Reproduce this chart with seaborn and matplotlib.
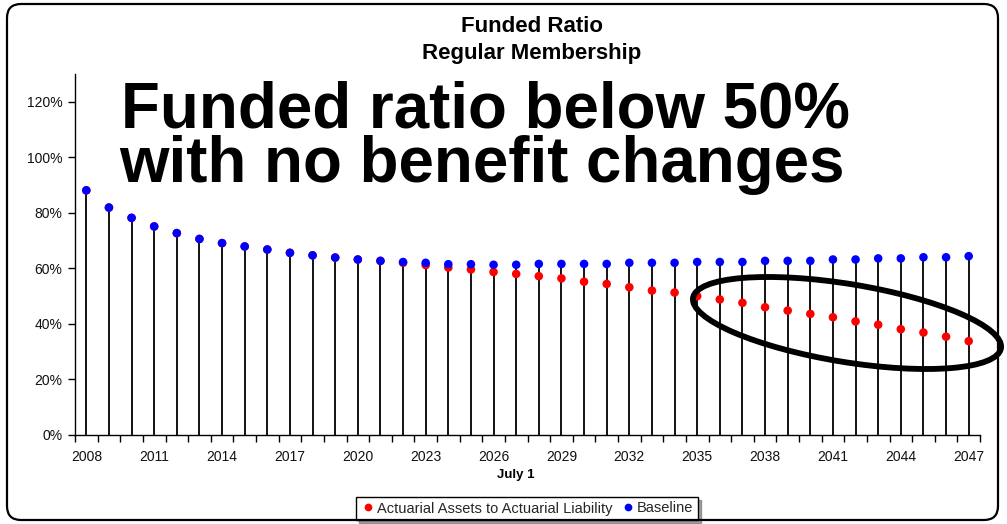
import numpy as np
import pandas as pd
import matplotlib
matplotlib.use("Agg")
import matplotlib.pyplot as plt
import seaborn as sns
from matplotlib.patches import Ellipse, FancyBboxPatch

# ---------------- data ----------------
years = list(range(2008, 2048))
baseline = [88.1, 81.9, 78.2, 75.1, 72.7, 70.6, 69.1, 67.9, 66.8, 65.6,
            64.7, 63.9, 63.2, 62.7, 62.3, 62.0, 61.5, 61.5, 61.3, 61.3,
            61.6, 61.6, 61.6, 61.6, 62.0, 62.0, 62.0, 62.3, 62.3, 62.3,
            62.7, 62.7, 62.7, 63.2, 63.2, 63.6, 63.6, 64.0, 64.0, 64.4]
actuarial = [88.1, 81.9, 78.2, 75.1, 72.7, 70.6, 69.1, 67.9, 66.8, 65.6,
             64.7, 63.9, 63.2, 62.7, 62.0, 61.2, 60.3, 59.6, 58.7, 58.0,
             57.2, 56.4, 55.2, 54.4, 53.2, 52.0, 51.3, 50.0, 48.8, 47.6,
             46.0, 44.8, 43.6, 42.4, 40.9, 39.7, 38.1, 36.9, 35.4, 33.8]
series_names = ["Actuarial Assets to Actuarial Liability", "Baseline"]
y_ticks = [0, 20, 40, 60, 80, 100, 120]
x_label_years = years[::3]

title_lines = ["Funded Ratio", "Regular Membership"]
callout_lines = ["Funded ratio below 50%", "with no benefit changes"]
x_title = "July 1"

# ---------------- style ----------------
sns.set_theme(style="ticks")
plt.rcParams['font.family'] = ['Liberation Sans', 'DejaVu Sans']

W, H = 1007, 524
fig = plt.figure(figsize=(W / 100, H / 100), dpi=100)
fig.patch.set_facecolor("white")

ax_l, ax_r, ax_t, ax_b = 75, 980, 74, 435
ax = fig.add_axes([ax_l / W, 1 - ax_b / H, (ax_r - ax_l) / W, (ax_b - ax_t) / H])
ax.set_facecolor("white")

pos = np.arange(len(years))
df = pd.DataFrame({
    "pos": np.concatenate([pos, pos]),
    "value": actuarial + baseline,
    "series": [series_names[0]] * len(years) + [series_names[1]] * len(years),
})

tops = np.maximum(np.array(baseline), np.array(actuarial))
ax.vlines(pos, 0, tops, color="black", lw=1.3, zorder=1)

sns.scatterplot(data=df, x="pos", y="value", hue="series", hue_order=series_names,
                palette={series_names[0]: "red", series_names[1]: "blue"},
                s=38, edgecolor="none", linewidth=0, ax=ax, zorder=3)

handles, labels = ax.get_legend_handles_labels()
ax.get_legend().remove()

ax.set_xlim(-0.5, len(years) - 0.5)
ax.set_ylim(0, 130)
ax.set_yticks(y_ticks)
ax.set_yticklabels([f"{v}%" for v in y_ticks])
ax.tick_params(axis="y", direction="out", length=5, width=1, color="black",
               labelsize=10, pad=4, labelcolor="#111111")

ax.set_xticks(np.arange(-0.5, len(years), 1))
ax.set_xticklabels([])
ax.set_xticks(pos[::3], minor=True)
ax.set_xticklabels([str(y) for y in x_label_years], minor=True)
ax.tick_params(axis="x", which="major", direction="out", length=5, width=1, color="black")
ax.tick_params(axis="x", which="minor", length=0, labelsize=10, pad=11, labelcolor="#111111")
ax.set_xlabel("")
ax.set_ylabel("")

for s in ["top", "right"]:
    ax.spines[s].set_visible(False)
for s in ["left", "bottom"]:
    ax.spines[s].set_color("black")
    ax.spines[s].set_linewidth(1)

# titles
fig.text(532 / W, 1 - 26 / H, title_lines[0], ha="center", va="center",
         fontsize=16, fontweight="bold", color="black")
fig.text(532 / W, 1 - 53 / H, title_lines[1], ha="center", va="center",
         fontsize=16, fontweight="bold", color="black")

# callout text
fig.text(121 / W, 1 - 127.3 / H, callout_lines[0], ha="left", va="baseline",
         fontsize=45.8, fontweight="bold", color="black")
fig.text(119 / W, 1 - 182 / H, callout_lines[1], ha="left", va="baseline",
         fontsize=45.8, fontweight="bold", color="black")

# axis title
fig.text(516 / W, 1 - 475 / H, x_title, ha="center", va="center",
         fontsize=9.5, fontweight="bold", color="black")

# legend
leg = fig.legend(handles, labels, loc="center", bbox_to_anchor=(527 / W, 1 - 508.5 / H),
                 ncol=2, frameon=True, fancybox=False, shadow=True, fontsize=10.5,
                 handletextpad=0.1, columnspacing=0.6, borderpad=0.3,
                 handlelength=1.0, markerscale=0.9)
leg.get_frame().set_edgecolor("black")
leg.get_frame().set_linewidth(1.0)

# ellipse highlight (annotation)
fig.add_artist(Ellipse((847 / 100, (H - 323) / 100), width=3.12, height=0.78,
                       angle=-9.3, transform=fig.dpi_scale_trans,
                       fill=False, edgecolor="black", lw=4.2, zorder=10))

# rounded border around chart
fig.add_artist(FancyBboxPatch((0.07, 0.04), 9.91, 5.16,
                              boxstyle="round,pad=0,rounding_size=0.14",
                              transform=fig.dpi_scale_trans, fill=False,
                              edgecolor="black", lw=1.6, zorder=11))

fig.savefig("out.png", dpi=100, facecolor="white")
